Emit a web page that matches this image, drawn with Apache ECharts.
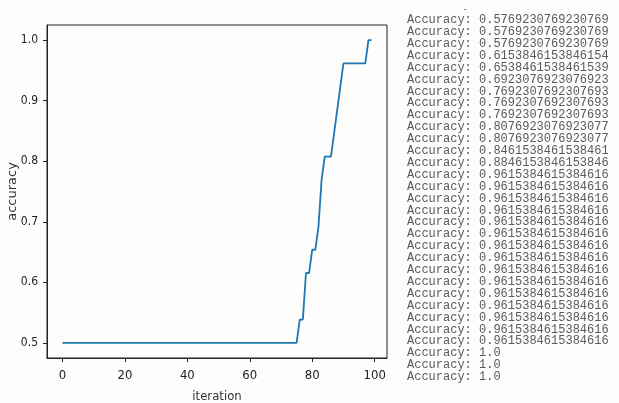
<!DOCTYPE html>
<html>
<head>
<meta charset="utf-8">
<script src="https://cdn.jsdelivr.net/npm/echarts@6/dist/echarts.min.js"></script>
<style>
  html, body { margin: 0; padding: 0; background: #fdfdfb; }
  #chart { width: 619px; height: 403px; }
</style>
</head>
<body>
<div id="chart"></div>
<script>
// accuracy per iteration (steps of 1/26)
const iterations = Array.from({ length: 100 }, (_, i) => i);
const accuracy = [
  0.5, 0.5, 0.5, 0.5, 0.5, 0.5, 0.5, 0.5, 0.5, 0.5,
  0.5, 0.5, 0.5, 0.5, 0.5, 0.5, 0.5, 0.5, 0.5, 0.5,
  0.5, 0.5, 0.5, 0.5, 0.5, 0.5, 0.5, 0.5, 0.5, 0.5,
  0.5, 0.5, 0.5, 0.5, 0.5, 0.5, 0.5, 0.5, 0.5, 0.5,
  0.5, 0.5, 0.5, 0.5, 0.5, 0.5, 0.5, 0.5, 0.5, 0.5,
  0.5, 0.5, 0.5, 0.5, 0.5, 0.5, 0.5, 0.5, 0.5, 0.5,
  0.5, 0.5, 0.5, 0.5, 0.5, 0.5, 0.5, 0.5, 0.5, 0.5,
  0.5, 0.5, 0.5, 0.5, 0.5, 0.5,
  0.5385, 0.5385, 0.6154, 0.6154, 0.6538, 0.6538, 0.6923, 0.7692,
  0.8077, 0.8077, 0.8077, 0.8462, 0.8846, 0.9231,
  0.9615, 0.9615, 0.9615, 0.9615, 0.9615, 0.9615, 0.9615, 0.9615,
  1.0, 1.0
];
const xTicks = [0, 20, 40, 60, 80, 100];
const yTicks = [0.5, 0.6, 0.7, 0.8, 0.9, 1.0];

// console output printed next to the plot
const printedAccuracy = [
  '0.5769230769230769', '0.5769230769230769', '0.5769230769230769',
  '0.6153846153846154', '0.6538461538461539', '0.6923076923076923',
  '0.7692307692307693', '0.7692307692307693', '0.7692307692307693',
  '0.8076923076923077', '0.8076923076923077', '0.8461538461538461',
  '0.8846153846153846',
  '0.9615384615384616', '0.9615384615384616', '0.9615384615384616',
  '0.9615384615384616', '0.9615384615384616', '0.9615384615384616',
  '0.9615384615384616', '0.9615384615384616', '0.9615384615384616',
  '0.9615384615384616', '0.9615384615384616', '0.9615384615384616',
  '0.9615384615384616', '0.9615384615384616', '0.9615384615384616',
  '1.0', '1.0', '1.0'
];

const chart = echarts.init(document.getElementById('chart'), null, { renderer: 'canvas' });

const labelFont = "'Liberation Sans Narrow', 'DejaVu Sans Condensed', 'Roboto', sans-serif";

const option = {
  backgroundColor: '#fdfdfb',
  animation: false,
  grid: {
    left: 47, right: 232, top: 25, bottom: 45,
    containLabel: false, outerBoundsMode: 'none',
    show: true, borderColor: '#222', borderWidth: 1, backgroundColor: 'transparent'
  },
  xAxis: {
    type: 'value',
    min: -4.95, max: 103.95,
    name: 'iteration',
    nameLocation: 'middle',
    nameGap: 32,
    nameMoveOverlap: false,
    nameTextStyle: { fontFamily: labelFont, fontSize: 13, color: '#333' },
    axisLine: { show: true, onZero: false, lineStyle: { color: '#222', width: 1 } },
    axisTick: { show: true, inside: false, length: 4, customValues: xTicks, lineStyle: { color: '#222', width: 1 } },
    axisLabel: { customValues: xTicks, margin: 11, fontFamily: labelFont, fontSize: 13, color: '#222' },
    splitLine: { show: false }
  },
  yAxis: {
    type: 'value',
    min: 0.475, max: 1.025,
    name: 'accuracy',
    nameLocation: 'middle',
    nameRotate: 90,
    nameGap: 28,
    nameMoveOverlap: false,
    nameTextStyle: { fontFamily: 'DejaVu Sans', fontSize: 13, color: '#333' },
    axisLine: { show: true, onZero: false, lineStyle: { color: '#222', width: 1 } },
    axisTick: { show: true, inside: false, length: 4, customValues: yTicks, lineStyle: { color: '#222', width: 1 } },
    axisLabel: {
      customValues: yTicks, margin: 9, fontFamily: labelFont, fontSize: 12, color: '#222',
      formatter: v => v.toFixed(1)
    },
    splitLine: { show: false }
  },
  series: [{
    type: 'line',
    data: iterations.map((it, i) => [it, accuracy[i]]),
    showSymbol: false,
    lineStyle: { color: '#1f77b4', width: 1.8 },
    silent: true
  }],
  graphic: [
    {
      type: 'text',
      left: 462, top: 4,
      style: { text: '-', font: "10px 'DejaVu Sans Mono', monospace", fill: '#777' }
    },
    {
      type: 'text',
      left: 407, top: 14,
      style: {
        text: printedAccuracy.map(v => 'Accuracy: ' + v).join('\n'),
        font: "12px 'Liberation Mono', 'DejaVu Sans Mono', monospace",
        lineHeight: 11.9,
        fill: '#5a5a5a'
      }
    }
  ]
};

chart.setOption(option);
</script>
</body>
</html>
